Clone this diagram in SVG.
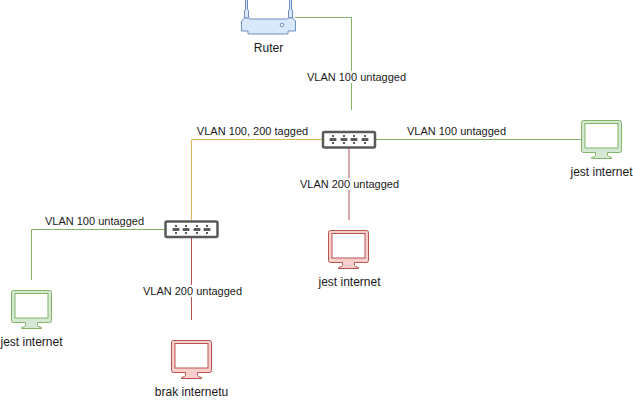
<svg xmlns="http://www.w3.org/2000/svg" width="633" height="400" viewBox="0 0 633 400">
<defs>
<style>
text{font-family:"Liberation Sans",Arial,sans-serif;font-size:11px;fill:#1a1a1a;text-anchor:middle}
.n{font-size:12px}
.c{fill:none;stroke-width:1}
.g{stroke:#82b366}.y{stroke:#d6b656}.r{stroke:#b85450}
.lb{fill:#fff}
.sw{fill:#fff;stroke:#595959;stroke-width:2.500}
.pt{fill:#595959}
.mg{--f:#d5e8d4;--s:#82b366}
.mr{--f:#f8cecc;--s:#b85450}
.mo{fill:var(--f);stroke:var(--s)}
.mi{fill:#fff;stroke:var(--s)}
</style>
<g id="port"><rect x="-3.500" y="-1.500" width="7" height="3" rx="1"/><rect x="-1" y="-4.500" width="2" height="2"/><rect x="-1" y="2.500" width="2" height="2"/></g>
<g id="monitor">
<path class="mo" d="M2 0H38Q40 0 40 2V30Q40 32 38 32H26V35Q26 36 30 37V38H10V37Q14 36 14 35V32H2Q0 32 0 30V2Q0 0 2 0Z"/>
<rect class="mi" x="3.500" y="3" width="33" height="24.500"/>
</g>
</defs>
<rect width="633" height="400" fill="#fff"/>
<g id="connectors">
<path class="c g" d="M295 17.500H351.500V110"/>
<path class="c g" d="M376 139.500H581"/>
<path class="c y" d="M322 139.500H191.500V221"/>
<path class="c r" d="M349 148V220"/>
<path class="c g" d="M165 229.500H31.500V280"/>
<path class="c r" d="M191.500 237V320"/>
</g>
<g id="labels">
<rect class="lb" x="307" y="71" width="99" height="12"/><text x="356.500" y="81">VLAN 100 untagged</text>
<text x="252.500" y="135">VLAN 100, 200 tagged</text>
<text x="456.500" y="135">VLAN 100 untagged</text>
<rect class="lb" x="300" y="178" width="99" height="12"/><text x="349.500" y="188">VLAN 200 untagged</text>
<text x="94.500" y="225">VLAN 100 untagged</text>
<rect class="lb" x="142" y="285" width="99" height="12"/><text x="192.500" y="295">VLAN 200 untagged</text>
</g>
<g id="router">
<path d="M245.500 0V9L244.500 11V18H248.500V11L247.500 9V0M289.500 0V9L288.500 11V18H292.500V11L291.500 9V0" fill="#dae8fc" stroke="#6c8ebf"/>
<path d="M244.500 18L241.500 21V31H248V34H288V31H295.500V21L292.500 18H288.500L287 19H250L248.500 18Z" fill="#dae8fc" stroke="#6c8ebf"/>
<circle cx="282" cy="25" r="1.800" fill="#fff" stroke="#6c8ebf"/>
<text class="n" x="268.500" y="52">Ruter</text>
</g>
<g id="switch1">
<rect class="sw" x="323" y="132" width="52" height="15.500" rx="1.500"/>
<g class="pt"><use href="#port" x="333" y="139.500"/><use href="#port" x="344" y="139.500"/><use href="#port" x="354" y="139.500"/><use href="#port" x="365" y="139.500"/></g>
</g>
<g id="switch2">
<rect class="sw" x="165.500" y="221.500" width="52" height="15.500" rx="1.500"/>
<g class="pt"><use href="#port" x="176" y="229.500"/><use href="#port" x="186" y="229.500"/><use href="#port" x="197" y="229.500"/><use href="#port" x="207" y="229.500"/></g>
</g>
<g id="pc1" class="mg"><use href="#monitor" x="581.500" y="120.500"/><text class="n" x="601.500" y="176">jest internet</text></g>
<g id="pc2" class="mr"><use href="#monitor" x="328.500" y="230.500"/><text class="n" x="349.500" y="286">jest internet</text></g>
<g id="pc3" class="mg"><use href="#monitor" x="11.500" y="290.500"/><text class="n" x="31.500" y="346">jest internet</text></g>
<g id="pc4" class="mr"><use href="#monitor" x="171.500" y="340.500"/><text class="n" x="191.500" y="396">brak internetu</text></g>
</svg>
